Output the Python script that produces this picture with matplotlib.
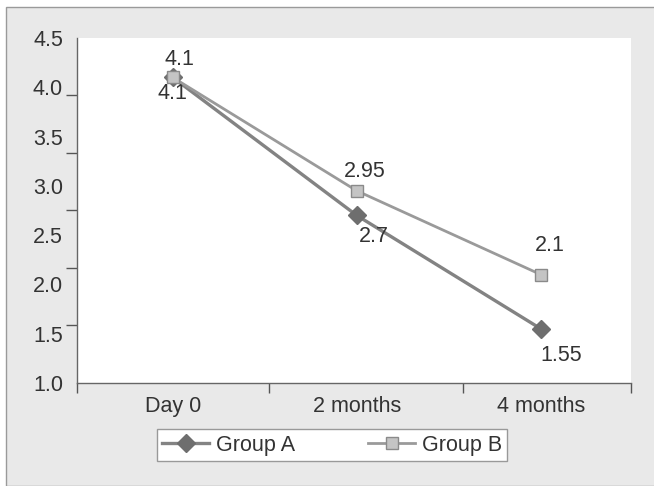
import numpy as np
import matplotlib.pyplot as plt
from matplotlib.patches import Rectangle

plt.rcParams['font.family'] = ['Liberation Sans', 'DejaVu Sans']

# time points and mean scores per group
periods = ['Day 0', '2 months', '4 months']
group_a = [4.1, 2.7, 1.55]
group_b = [4.1, 2.95, 2.1]
a_labels = ['4.1', '2.7', '1.55']
b_labels = ['4.1', '2.95', '2.1']
yticks = [1.0, 1.5, 2.0, 2.5, 3.0, 3.5, 4.0, 4.5]

txt = '#333333'
fs = 15.5
fig = plt.figure(figsize=(6.54, 4.86), dpi=100, facecolor='white')

# grey panel behind the chart
panel = Rectangle((6 / 654, 0), 1, 1 - 7 / 486, transform=fig.transFigure,
                  facecolor='#e9e9e9', edgecolor='#9a9a9a', linewidth=1.0, zorder=-5)
fig.patches.append(panel)

ax = fig.add_axes([77 / 654, 1 - 383 / 486, (631 - 77) / 654, (383 - 38) / 486])
ax.set_facecolor('white')

x = np.arange(len(periods))
ax.plot(x, group_a, color='#838383', lw=2.4, marker='D', ms=9,
        mfc='#6e6e6e', mec='#6e6e6e', label='Group A', zorder=3)
ax.plot(x, group_b, color='#9a9a9a', lw=2.0, marker='s', ms=9,
        mfc='#c4c4c4', mec='#8a8a8a', mew=1.0, label='Group B', zorder=4)

# value labels: group A below, group B above
a_off = [(0, -11.5), (12, -15), (15, -19)]
b_off = [(4.5, 13), (6, 14), (6.5, 21)]
for xi, v, s, o in zip(x, group_a, a_labels, a_off):
    ax.annotate(s, (xi, v), xytext=o, textcoords='offset points',
                ha='center', va='center', fontsize=fs, color=txt)
for xi, v, s, o in zip(x, group_b, b_labels, b_off):
    ax.annotate(s, (xi, v), xytext=o, textcoords='offset points',
                ha='center', va='center', fontsize=fs, color=txt)

ax.set_xlim(-0.52, 2.49)
ax.set_ylim(1.0, 4.5)

# labels sit on the values; the tick marks follow their own spacing
ax.set_yticks(yticks)
ax.set_yticklabels(['%.1f' % t for t in yticks])
ax.set_yticks(np.linspace(1.0, 4.5, 7), minor=True)
ax.set_xticks(x)
ax.set_xticklabels(periods)
ax.set_xticks([-0.52, 0.523, 1.575, 2.49], minor=True)

ax.tick_params(axis='x', which='major', length=0, pad=9, labelsize=fs, labelcolor=txt)
ax.tick_params(axis='x', which='minor', length=7, width=1, color='#555555', direction='out')
ax.tick_params(axis='y', which='major', length=0, pad=10, labelsize=fs, labelcolor=txt)
ax.tick_params(axis='y', which='minor', length=8, width=1, color='#555555', direction='out')

for side in ['top', 'right']:
    ax.spines[side].set_visible(False)
for side in ['left', 'bottom']:
    ax.spines[side].set_color('#666666')
    ax.spines[side].set_linewidth(1.0)

leg = fig.legend(loc='center', bbox_to_anchor=(332 / 654, 1 - 445 / 486), ncol=2,
                 fontsize=fs, frameon=True, fancybox=False, edgecolor='#999999',
                 framealpha=1, handlelength=2.2, columnspacing=3.4, borderpad=0.25,
                 handletextpad=0.3, labelcolor=txt)
leg.get_frame().set_linewidth(1.0)

fig.savefig('out.png', dpi=100, facecolor=fig.get_facecolor())
